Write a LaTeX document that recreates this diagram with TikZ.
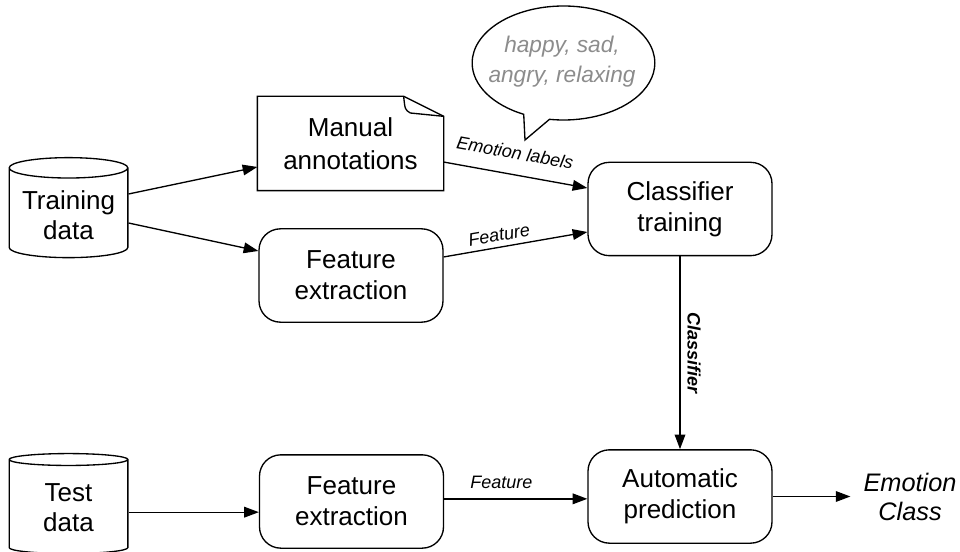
\documentclass[tikz,border=0pt]{standalone}
\usepackage{fontspec}
\setmainfont{Liberation Sans}
\usetikzlibrary{shapes.geometric,shapes.callouts,arrows.meta}

\tikzset{
  box/.style={draw, rounded corners=16pt, minimum width=138pt, minimum height=70pt,
    align=center, font=\fontsize{19.5}{23.5}\selectfont},
  db/.style={draw, cylinder, shape border rotate=90, aspect=0.2,
    minimum width=89pt, minimum height=75pt, align=center,
    font=\fontsize{19.5}{22.5}\selectfont},
  link/.style={-{Triangle[length=11pt,width=8pt]}},
  lbl/.style={font=\fontsize{13.5}{16}\selectfont\itshape, inner sep=1pt},
}

\begin{document}
\begin{tikzpicture}[x=0.75pt,y=-0.75pt,line width=1pt]
    \useasboundingbox (0,0) rectangle (960,552);

    % data sources
    \node[db] (train) at (68.5,215) {Training\\data};
    \node[db] (test) at (68.5,508) {Test\\data};

    % training branch
    \node[align=center, minimum width=138.75pt, minimum height=69.75pt,
          font=\fontsize{19.5}{24.5}\selectfont] (ann) at (350.5,143.5) {Manual\\annotations};
    \draw (ann.south west) -- (ann.north west) -- ([xshift=-30pt]ann.north east)
          -- ([yshift=-15pt]ann.north east) -- (ann.south east) -- cycle;
    \draw ([xshift=-30pt]ann.north east)
          .. controls ([xshift=-29pt,yshift=-10pt]ann.north east) .. ([xshift=-25pt,yshift=-12.5pt]ann.north east)
          -- ([yshift=-15pt]ann.north east);
    \node[box] (featA) at (351,275.5) {Feature\\extraction};
    \node[box] (clf) at (680,209) {Classifier\\training};

    % emotion tags
    \node[ellipse callout, draw, minimum width=137pt, minimum height=85.5pt,
          callout absolute pointer={(525,140)}, callout pointer arc=17] (tags) at (563.5,63) {};
    \node[align=center, text=black!45, inner sep=0pt,
          font=\fontsize{17}{22.5}\selectfont\itshape] (tagtext) at (562,62) {happy, sad,\\angry, relaxing};

    % test branch
    \node[box] (featB) at (351.5,501.5) {Feature\\extraction};
    \node[box] (pred) at (680,496.5) {Automatic\\prediction};
    \node[align=center, font=\fontsize{19}{22}\selectfont\itshape] (emo) at (910,497) {Emotion\\Class};

    \draw[link] ([yshift=15.75pt]train.east) -- ([yshift=-17.6pt]ann.west);
    \draw[link] ([yshift=-6pt]train.east) -- ([yshift=18.4pt]featA.west);
    \draw[link] ([yshift=-13.9pt]ann.east) -- node[lbl, above=10pt, sloped, pos=0.47] {Emotion labels} ([yshift=15.75pt]clf.west);
    \draw[link] ([yshift=13.9pt]featA.east) -- node[lbl, above=3pt, sloped, pos=0.4] {Feature} ([yshift=-17.25pt]clf.west);
    \draw[link] (clf) -- node[lbl, font=\fontsize{13.5}{16}\selectfont\bfseries\itshape, above=4pt, sloped] {Classifier} (pred);

    \draw[link] ([yshift=-8pt]featB.west -| test.east) -- ([yshift=-8pt]featB.west);
    \draw[link] ([yshift=2pt]featB.east) -- node[lbl, above=6pt, pos=0.4] {Feature} ([yshift=2pt]featB.east -| pred.west);
    \draw[link, shorten >=6pt] (pred.east) -- (pred.east -| emo.west);
\end{tikzpicture}
\end{document}
